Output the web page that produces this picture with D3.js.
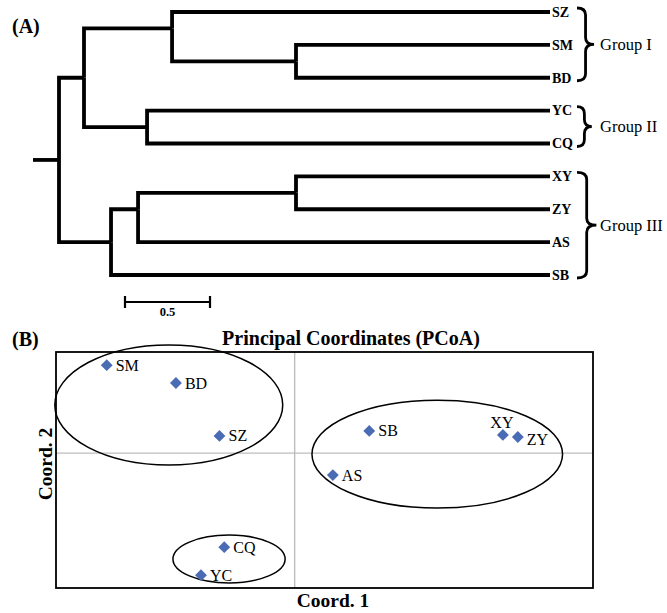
<!DOCTYPE html>
<html>
<head>
<meta charset="utf-8">
<script src="https://cdn.jsdelivr.net/npm/d3@7/dist/d3.min.js"></script>
<style>
  html, body { margin: 0; padding: 0; background: #fff; }
  svg { display: block; }
  text { font-family: "Liberation Serif", "Times New Roman", serif; }
</style>
</head>
<body>
<svg id="chart" width="667" height="613"></svg>
<script>
// ---------------- DATA ----------------
// Dendrogram (branch lengths in distance units; pos = optional attach position in leaf ranks)
const treeData = {
  len: 0.153, children: [
    { len: 0.147, children: [
      { len: 0.518, pos: 0.5, children: [
        { name: "SZ", len: 2.223 },
        { len: 0.729, children: [ { name: "SM", len: 1.494 }, { name: "BD", len: 1.494 } ] }
      ]},
      { len: 0.371, children: [ { name: "YC", len: 2.370 }, { name: "CQ", len: 2.370 } ] }
    ]},
    { len: 0.306, children: [
      { len: 0.159, pos: 6, children: [
        { len: 0.929, children: [ { name: "XY", len: 1.494 }, { name: "ZY", len: 1.494 } ] },
        { name: "AS", len: 2.423 }
      ]},
      { name: "SB", len: 2.582 }
    ]}
  ]
};
const groupNames = ["Group I", "Group II", "Group III"];
const groupFrom  = ["SZ", "YC", "XY"];
const groupTo    = ["BD", "CQ", "SB"];
const scaleBarValue = 0.5;

// PCoA
const pcoaLabels = ["SM", "BD", "SZ", "CQ", "YC", "SB", "XY", "ZY", "AS"];
const coord1     = [-0.315, -0.199, -0.126, -0.118, -0.157, 0.125, 0.349, 0.374, 0.064];
const coord2     = [ 0.261,  0.208,  0.051, -0.279, -0.362, 0.066, 0.054, 0.048, -0.065];
const ellipseCx  = [-0.211, -0.110, 0.239];
const ellipseCy  = [ 0.143, -0.314, -0.003];
const ellipseRx  = [ 0.191,  0.094, 0.210];
const ellipseRy  = [ 0.178,  0.071, 0.160];
const xDomain = [-0.4, 0.5];
const yDomain = [-0.4, 0.3];

// ---------------- DRAW ----------------
const svg = d3.select("#chart");

// ===== Panel A: dendrogram =====
const root = d3.hierarchy(treeData);
root.each(d => { d.dist = (d.parent ? d.parent.dist : 0) + (d.parent ? d.data.len : 0); });
const leaves = root.leaves();
leaves.forEach((l, i) => l.rank = i);
root.eachAfter(d => {
  if (d.children) {
    d.rank = d.data.pos != null ? d.data.pos
      : (d.children[0].rank + d.children[d.children.length - 1].rank) / 2;
  }
});
const maxDist = d3.max(leaves, l => l.dist);
const tx = d3.scaleLinear().domain([0, maxDist]).range([59, 550]);
const ty = d3.scaleLinear().domain([0, leaves.length - 1]).range([12, 275]);

const gA = svg.append("g");
gA.append("text").attr("x", 12).attr("y", 33).attr("font-size", 20).attr("font-weight", "bold").text("(A)");

// root stub
gA.append("path")
  .attr("d", `M${tx(-root.data.len)},${ty(root.rank)}H${tx(0)}`)
  .attr("stroke", "#000").attr("stroke-width", 3.8).attr("fill", "none");

gA.selectAll("path.link").data(root.links()).join("path")
  .attr("class", "link")
  .attr("d", l => `M${tx(l.source.dist)},${ty(l.source.rank)}V${ty(l.target.rank)}H${tx(l.target.dist)}`)
  .attr("stroke", "#000").attr("stroke-width", 3.8).attr("fill", "none")
  .attr("stroke-linejoin", "miter");

gA.selectAll("text.leaf").data(leaves).join("text")
  .attr("class", "leaf")
  .attr("x", d => tx(d.dist) + 2)
  .attr("y", d => ty(d.rank) + 4.8)
  .attr("font-size", 14).attr("font-weight", "bold")
  .text(d => d.data.name);

// braces
const leafY = name => ty(leaves.find(l => l.data.name === name).rank);
groupNames.forEach((g, i) => {
  const y0 = leafY(groupFrom[i]) - 4, y1 = leafY(groupTo[i]) + 3;
  const ym = (y0 + y1) / 2;
  const x0 = 577, w = 12 + (y1 - y0) * 0.07, xm = x0 + w / 2, r = Math.min(7, (y1 - y0) / 5);
  const p = `M${x0},${y0} Q${xm},${y0} ${xm},${y0 + r} L${xm},${ym - r} Q${xm},${ym} ${x0 + w},${ym}` +
            ` Q${xm},${ym} ${xm},${ym + r} L${xm},${y1 - r} Q${xm},${y1} ${x0},${y1}`;
  gA.append("path").attr("d", p).attr("fill", "none").attr("stroke", "#000").attr("stroke-width", 2.8);
  gA.append("text").attr("x", 600).attr("y", ym + 5.5)
    .attr("font-size", 16.5).text(g);
});

// scale bar
const sbY = 302;
const sbX0 = 125, sbX1 = sbX0 + (tx(scaleBarValue) - tx(0));
gA.append("path")
  .attr("d", `M${sbX0},${sbY}H${sbX1}M${sbX0},${sbY - 6}V${sbY + 6}M${sbX1},${sbY - 6}V${sbY + 6}`)
  .attr("stroke", "#000").attr("stroke-width", 2.2).attr("fill", "none");
gA.append("text").attr("x", (sbX0 + sbX1) / 2).attr("y", 316).attr("text-anchor", "middle")
  .attr("font-size", 12.5).attr("font-weight", "bold").text(scaleBarValue);

// ===== Panel B: PCoA =====
const L = 56, R = 593, T = 352, B = 588;
const x = d3.scaleLinear().domain(xDomain).range([L, R]);
const y = d3.scaleLinear().domain(yDomain).range([B, T]);
const gB = svg.append("g");

gB.append("text").attr("x", 12).attr("y", 346).attr("font-size", 20).attr("font-weight", "bold").text("(B)");
gB.append("text").attr("x", 351).attr("y", 345).attr("text-anchor", "middle")
  .attr("font-size", 20).attr("font-weight", "bold").text("Principal Coordinates (PCoA)");

// zero lines
gB.append("line").attr("x1", x(0)).attr("x2", x(0)).attr("y1", T).attr("y2", B)
  .attr("stroke", "#bdbdbd").attr("stroke-width", 1.4);
gB.append("line").attr("x1", L).attr("x2", R).attr("y1", y(0)).attr("y2", y(0))
  .attr("stroke", "#bdbdbd").attr("stroke-width", 1.4);

// frame
gB.append("rect").attr("x", L).attr("y", T).attr("width", R - L).attr("height", B - T)
  .attr("fill", "none").attr("stroke", "#000").attr("stroke-width", 1.8);

// ellipses
gB.selectAll("ellipse").data(ellipseCx).join("ellipse")
  .attr("cx", (d, i) => x(ellipseCx[i]))
  .attr("cy", (d, i) => y(ellipseCy[i]))
  .attr("rx", (d, i) => x(ellipseRx[i]) - x(0))
  .attr("ry", (d, i) => y(0) - y(ellipseRy[i]))
  .attr("fill", "none").attr("stroke", "#000").attr("stroke-width", 1.5);

// points
const sym = d3.symbol().type(d3.symbolSquare).size(70);
gB.selectAll("path.pt").data(pcoaLabels).join("path")
  .attr("class", "pt")
  .attr("d", sym)
  .attr("transform", (d, i) => `translate(${x(coord1[i])},${y(coord2[i])}) rotate(45)`)
  .attr("fill", "#4a6cb5");

gB.selectAll("text.pl").data(pcoaLabels).join("text")
  .attr("class", "pl")
  .attr("x", (d, i) => d === "XY" ? x(coord1[i]) - 1 : x(coord1[i]) + 9)
  .attr("y", (d, i) => d === "XY" ? y(coord2[i]) - 7 : y(coord2[i]) + (d === "ZY" ? 8 : 5.5))
  .attr("text-anchor", d => d === "XY" ? "middle" : "start")
  .attr("font-size", 16)
  .text(d => d);

// axis titles
gB.append("text").attr("x", 333).attr("y", 607).attr("text-anchor", "middle")
  .attr("font-size", 19.5).attr("font-weight", "bold").text("Coord. 1");
gB.append("text").attr("transform", `translate(52,464) rotate(-90)`).attr("text-anchor", "middle")
  .attr("font-size", 19.5).attr("font-weight", "bold").text("Coord. 2");
</script>
</body>
</html>
